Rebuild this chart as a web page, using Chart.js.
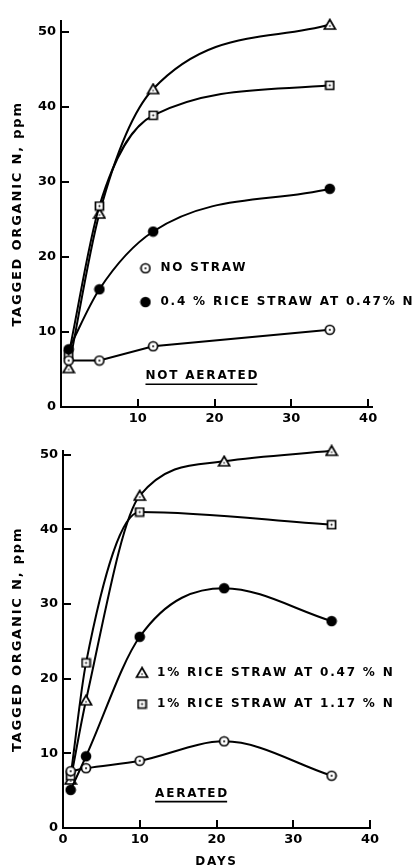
<!DOCTYPE html>
<html>
<head>
<meta charset="utf-8">
<script src="https://cdn.jsdelivr.net/npm/chart.js@4.4.1/dist/chart.umd.min.js"></script>
<style>
  html, body { margin: 0; padding: 0; background: #fff; overflow: hidden; }
  canvas { position: absolute; left: 0; }
  #topChart { top: 0; }
  #bottomChart { top: 430px; }
</style>
</head>
<body>
<canvas id="topChart" width="417" height="430"></canvas>
<canvas id="bottomChart" width="417" height="438"></canvas>
<script>
// Not aerated (top panel)
const naDays = [1, 5, 12, 35];
const naNoStraw = [6.2, 6.2, 8.1, 10.3];
const naStraw04 = [7.7, 15.7, 23.4, 29.1];
const naStraw1Low = [5.2, 25.8, 42.4, 51.0];
const naStraw1High = [7.0, 26.8, 38.9, 42.9];

// Aerated (bottom panel)
const aDays = [1, 3, 10, 21, 35];
const aNoStraw = [7.6, 8.0, 9.0, 11.6, 7.0];
const aStraw04 = [5.1, 9.6, 25.6, 32.1, 27.7];
const aStraw1Low = [6.5, 17.1, 44.5, 49.1, 50.5];
const aSquareDays = [1, 3, 10, 35];
const aStraw1High = [7.0, 22.1, 42.3, 40.6];

const yTicks = [0, 10, 20, 30, 40, 50];
const xTicks = [0, 10, 20, 30, 40];

const FONT = '"DejaVu Sans", "Liberation Sans", sans-serif';

function pts(xs, ys) {
    return xs.map((x, i) => ({ x: x, y: ys[i] }));
}

// small canvases used as point styles
function marker(w, h, draw) {
    const c = document.createElement('canvas');
    c.width = w;
    c.height = h;
    const g = c.getContext('2d');
    g.strokeStyle = '#000';
    g.fillStyle = '#fff';
    g.lineWidth = 1.7;
    draw(g);
    return c;
}
function dot(g, x, y, r) {
    g.beginPath();
    g.arc(x, y, r, 0, Math.PI * 2);
    g.fillStyle = '#000';
    g.fill();
}
const openCircle = marker(12, 12, g => {
    g.beginPath();
    g.arc(6, 6, 4.5, 0, Math.PI * 2);
    g.fill();
    g.stroke();
    dot(g, 6, 6, 1);
});
const filledCircle = marker(12, 12, g => dot(g, 6, 6, 5.3));
const triangle = marker(14, 13, g => {
    g.beginPath();
    g.moveTo(7, 1.5);
    g.lineTo(12.5, 11);
    g.lineTo(1.5, 11);
    g.closePath();
    g.fill();
    g.stroke();
    dot(g, 7, 8, 0.8);
});
const square = marker(11, 11, g => {
    g.beginPath();
    g.rect(1.5, 1.5, 8, 8);
    g.fill();
    g.stroke();
    dot(g, 5.5, 5.5, 1);
});

function series(data, style, curved) {
    return {
        data: data,
        borderColor: '#000',
        borderWidth: 2,
        pointStyle: style,
        pointRadius: 5,
        cubicInterpolationMode: curved ? 'monotone' : 'default',
        tension: curved ? 0.4 : 0,
        clip: false,
        fill: false
    };
}

function axes(o) {
    return {
        x: {
            type: 'linear',
            min: 0,
            max: o.xMax,
            afterFit: s => { s.height = o.xHeight; },
            afterBuildTicks: s => { s.ticks = xTicks.map(v => ({ value: v })); },
            ticks: {
                z: 1,
                color: '#000',
                padding: 12,
                maxRotation: 0,
                font: { family: FONT, size: 13, weight: 'bold' },
                callback: v => (o.xZero || v !== 0) ? v : ''
            },
            grid: { drawOnChartArea: false, tickLength: -8, color: '#000', lineWidth: 2 },
            border: { color: '#000', width: 2 },
            title: {
                display: !!o.xTitle,
                text: o.xTitle || '',
                color: '#000',
                font: { family: FONT, size: 12, weight: 'bold', lineHeight: 1 },
                padding: { top: 0, bottom: 0 }
            }
        },
        y: {
            type: 'linear',
            min: 0,
            max: o.yMax,
            afterFit: s => { s.width = o.yWidth; },
            afterBuildTicks: s => { s.ticks = yTicks.map(v => ({ value: v })); },
            ticks: {
                z: 1,
                color: '#000',
                padding: 13,
                font: { family: FONT, size: 13, weight: 'bold' }
            },
            grid: { drawOnChartArea: false, tickLength: -8, color: '#000', lineWidth: 2 },
            border: { color: '#000', width: 2 },
            title: {
                display: true,
                text: 'TAGGED ORGANIC N, ppm',
                color: '#000',
                font: { family: FONT, size: 13, weight: 'bold' },
                padding: { top: 10, bottom: 0 }
            }
        }
    };
}

// spaced lettering for titles and notes, tight for tick numbers
const notes = {
    id: 'notes',
    beforeDraw(chart) {
        chart.ctx.letterSpacing = '1.8px';
    },
    beforeDatasetsDraw(chart) {
        chart.ctx.letterSpacing = '0px';
    },
    afterDraw(chart, args, opts) {
        const ctx = chart.ctx;
        const x = chart.scales.x, y = chart.scales.y;
        ctx.save();
        ctx.letterSpacing = '1.8px';
        ctx.fillStyle = '#000';
        ctx.strokeStyle = '#000';
        ctx.textBaseline = 'middle';
        ctx.font = 'bold 12px ' + FONT;
        opts.items.forEach(it => {
            const px = x.getPixelForValue(it.x);
            const py = y.getPixelForValue(it.y);
            let tx = px;
            if (it.icon) {
                ctx.drawImage(it.icon, px - it.icon.width / 2, py - it.icon.height / 2);
                tx = px + 15;
            }
            ctx.fillText(it.text, tx, py);
            if (it.underline) {
                const w = ctx.measureText(it.text).width;
                ctx.lineWidth = 1.6;
                ctx.beginPath();
                ctx.moveTo(tx, py + 8);
                ctx.lineTo(tx + w - 2, py + 8);
                ctx.stroke();
            }
        });
        ctx.restore();
    }
};

new Chart(document.getElementById('topChart'), {
    type: 'line',
    data: {
        datasets: [
            series(pts(naDays, naNoStraw), openCircle, false),
            series(pts(naDays, naStraw04), filledCircle, true),
            series(pts(naDays, naStraw1High), square, true),
            series(pts(naDays, naStraw1Low), triangle, true)
        ]
    },
    options: {
        responsive: false,
        animation: false,
        layout: { padding: { left: 0, right: 45, top: 13, bottom: 0 } },
        scales: axes({ xMax: 40.5, yMax: 51.5, xHeight: 23, yWidth: 61, xZero: false }),
        plugins: {
            legend: { display: false },
            tooltip: { enabled: false },
            notes: {
                items: [
                    { x: 11, y: 18.5, icon: openCircle, text: 'NO STRAW' },
                    { x: 11, y: 14.0, icon: filledCircle, text: '0.4 % RICE STRAW AT 0.47% N' },
                    { x: 11, y: 4.1, text: 'NOT AERATED', underline: true }
                ]
            }
        }
    },
    plugins: [notes]
});

new Chart(document.getElementById('bottomChart'), {
    type: 'line',
    data: {
        datasets: [
            series(pts(aDays, aNoStraw), openCircle, true),
            series(pts(aDays, aStraw04), filledCircle, true),
            series(pts(aSquareDays, aStraw1High), square, true),
            series(pts(aDays, aStraw1Low), triangle, true)
        ]
    },
    options: {
        responsive: false,
        animation: false,
        layout: { padding: { left: 0, right: 47, top: 11, bottom: 0 } },
        scales: axes({ xMax: 40, yMax: 50.5, xHeight: 40, yWidth: 63, xZero: true, xTitle: 'DAYS' }),
        plugins: {
            legend: { display: false },
            tooltip: { enabled: false },
            notes: {
                items: [
                    { x: 10.3, y: 20.8, icon: triangle, text: '1% RICE STRAW AT 0.47 % N' },
                    { x: 10.3, y: 16.6, icon: square, text: '1% RICE STRAW AT 1.17 % N' },
                    { x: 12, y: 4.6, text: 'AERATED', underline: true }
                ]
            }
        }
    },
    plugins: [notes]
});
</script>
</body>
</html>
